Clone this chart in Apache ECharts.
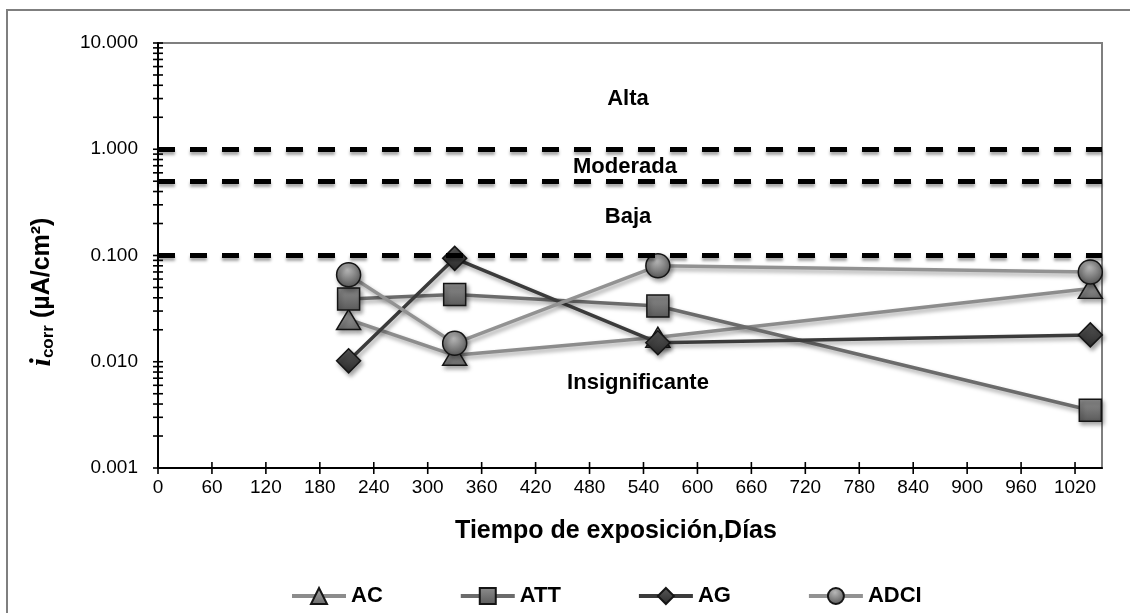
<!DOCTYPE html>
<html><head><meta charset="utf-8">
<script src="https://cdn.jsdelivr.net/npm/echarts@6/dist/echarts.min.js"></script>
<style>html,body{margin:0;padding:0;background:#fff}#c{width:1130px;height:613px}</style>
</head><body><div id="c"></div>
<script>
// ---- data ----
const days = [212, 330, 556, 1037];
const AC   = [0.025, 0.0115, 0.017, 0.049];
const ATT  = [0.039, 0.043, 0.0335, 0.0035];
const AG   = [0.0102, 0.094, 0.0151, 0.0179];
const ADCI = [0.066, 0.0149, 0.080, 0.070];
const thresholds = [1, 0.5, 0.1];
const zoneLabels = ['Alta', 'Moderada', 'Baja', 'Insignificante'];
const xTickValues = [0, 60, 120, 180, 240, 300, 360, 420, 480, 540, 600, 660, 720, 780, 840, 900, 960, 1020];
const yLabelValues = [0.001, 0.01, 0.1, 1, 10];
const yDecades = [0.001, 0.01, 0.1, 1];
const yMantissas = [1, 2, 3, 4, 5, 6, 7, 8, 9];

const yTickValues = [];
yDecades.forEach(d => yMantissas.forEach(m => yTickValues.push(+(d * m).toPrecision(3))));
yTickValues.push(10);

const X_MIN = 0, X_MAX = 1050, Y_MIN = 0.001, Y_MAX = 10;
const FONT = "'Liberation Sans', Arial, sans-serif";

function pairs(vals) { return days.map((d, i) => [d, vals[i]]); }
function lg(c1, c2) { return {type: 'linear', x: 0, y: 0, x2: 0, y2: 1, colorStops: [{offset: 0, color: c1}, {offset: 1, color: c2}]}; }
const shadow = {shadowColor: 'rgba(0,0,0,0.35)', shadowBlur: 4, shadowOffsetX: 2, shadowOffsetY: 3};

function lineSeries(name, vals, lineColor, symbol, size, fill) {
  return {
    name, type: 'line', data: pairs(vals), symbol, symbolSize: size,
    showAllSymbol: true, z: 3,
    lineStyle: Object.assign({color: lineColor, width: 3.5}, shadow),
    itemStyle: Object.assign({color: fill, borderColor: '#151515', borderWidth: 1.5}, shadow),
    emphasis: {disabled: true}
  };
}

const sAC = lineSeries('AC', AC, '#8c8c8c', 'triangle', [24, 20], lg('#a8a8a8', '#6a6a6a'));
sAC.markLine = {
  silent: true, symbol: ['none', 'none'], label: {show: false},
  lineStyle: Object.assign({color: '#000', width: 5, type: [17, 15]}, {shadowColor: 'rgba(0,0,0,0.35)', shadowBlur: 3, shadowOffsetY: 3}),
  data: thresholds.map(v => ({yAxis: v}))
};
const sATT = lineSeries('ATT', ATT, '#6b6b6b', 'rect', 22, lg('#8e8e8e', '#5a5a5a'));
const sAG = lineSeries('AG', AG, '#3b3b3b', 'diamond', 24, lg('#5a5a5a', '#2a2a2a'));
const sADCI = lineSeries('ADCI', ADCI, '#929292', 'circle', 24,
  {type: 'radial', x: 0.45, y: 0.3, r: 0.75, colorStops: [{offset: 0, color: '#b8b8b8'}, {offset: 1, color: '#4e4e4e'}]});

const tickSeriesX = {
  type: 'custom', name: '_xt', silent: true, z: 10,
  data: xTickValues.map(v => [v, Y_MIN]),
  renderItem: (p, api) => {
    const c = api.coord([api.value(0), api.value(1)]);
    return {type: 'line', shape: {x1: c[0], y1: c[1] - 6, x2: c[0], y2: c[1] + 6}, style: {stroke: '#000', lineWidth: 1.6}};
  }
};
const tickSeriesY = {
  type: 'custom', name: '_yt', silent: true, z: 10,
  data: yTickValues.map(v => [X_MIN, v]),
  renderItem: (p, api) => {
    const c = api.coord([api.value(0), api.value(1)]);
    return {type: 'line', shape: {x1: c[0] - 5, y1: c[1], x2: c[0] + 5, y2: c[1]}, style: {stroke: '#000', lineWidth: 1.6}};
  }
};

const chart = echarts.init(document.getElementById('c'), null, {renderer: 'canvas'});
chart.setOption({
  animation: false,
  backgroundColor: '#fff',
  textStyle: {fontFamily: FONT},
  grid: {left: 158, right: 28, top: 43, bottom: 145, show: true, borderColor: '#7f7f7f', borderWidth: 2, containLabel: false},
  xAxis: {
    type: 'value', min: X_MIN, max: X_MAX, interval: 60,
    axisLine: {show: true, lineStyle: {color: '#000', width: 2}},
    axisTick: {show: false},
    splitLine: {show: false},
    axisLabel: {color: '#000', fontSize: 19, fontFamily: FONT, margin: 10, showMaxLabel: false,
      formatter: v => (xTickValues.indexOf(v) >= 0 ? String(v) : '')}
  },
  yAxis: {
    type: 'log', logBase: 10, min: Y_MIN, max: Y_MAX,
    axisLine: {show: true, lineStyle: {color: '#000', width: 2}},
    axisTick: {show: false},
    splitLine: {show: false},
    minorTick: {show: false},
    axisLabel: {color: '#000', fontSize: 19, fontFamily: FONT, margin: 20,
      formatter: v => (yLabelValues.some(t => Math.abs(t - v) / t < 1e-6) ? Number(v).toFixed(3) : '')}
  },
  legend: {
    data: ['AC', 'ATT', 'AG', 'ADCI'],
    left: 285, top: 580, itemWidth: 54, itemHeight: 20, itemGap: 76,
    lineStyle: {width: 4, shadowBlur: 0, shadowOffsetX: 0, shadowOffsetY: 0},
    itemStyle: {shadowBlur: 0, shadowOffsetX: 0, shadowOffsetY: 0},
    textStyle: {color: '#000', fontSize: 22, fontWeight: 'bold', fontFamily: FONT},
    selectedMode: false
  },
  series: [sAC, sATT, sAG, sADCI, tickSeriesX, tickSeriesY],
  graphic: [
    {type: 'rect', silent: true, z: -1, shape: {x: 7, y: 10, width: 1300, height: 800}, style: {fill: 'none', stroke: '#7f7f7f', lineWidth: 2}},
    {type: 'text', silent: true, x: 628, y: 99, style: {text: zoneLabels[0], font: 'bold 22px ' + FONT, fill: '#000', align: 'center', verticalAlign: 'middle'}},
    {type: 'text', silent: true, x: 625, y: 167, style: {text: zoneLabels[1], font: 'bold 22px ' + FONT, fill: '#000', align: 'center', verticalAlign: 'middle'}},
    {type: 'text', silent: true, x: 628, y: 217, style: {text: zoneLabels[2], font: 'bold 22px ' + FONT, fill: '#000', align: 'center', verticalAlign: 'middle'}},
    {type: 'text', silent: true, x: 638, y: 383, style: {text: zoneLabels[3], font: 'bold 22px ' + FONT, fill: '#000', align: 'center', verticalAlign: 'middle'}},
    {type: 'text', silent: true, x: 616, y: 531, style: {text: 'Tiempo de exposición,Días', font: 'bold 25px ' + FONT, fill: '#000', align: 'center', verticalAlign: 'middle'}},
    {type: 'text', silent: true, x: 42, y: 292, rotation: Math.PI / 2,
      style: {
        text: '{i|i}{s|corr}{t| (µA/cm²)}', align: 'center', verticalAlign: 'middle', fill: '#000',
        rich: {
          i: {fontFamily: "'Liberation Serif', 'Times New Roman', serif", fontStyle: 'italic', fontWeight: 'bold', fontSize: 30, lineHeight: 30, verticalAlign: 'middle'},
          s: {fontFamily: FONT, fontWeight: 'bold', fontSize: 17, lineHeight: 30, padding: [12, 0, 0, 0], verticalAlign: 'middle'},
          t: {fontFamily: FONT, fontWeight: 'bold', fontSize: 25, lineHeight: 30, verticalAlign: 'middle'}
        }
      }}
  ]
});
</script></body></html>
